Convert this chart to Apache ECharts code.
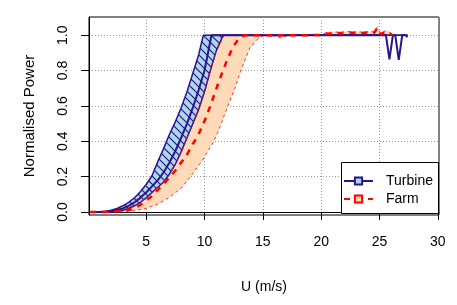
<!DOCTYPE html>
<html><head><meta charset="utf-8">
<script src="https://cdn.jsdelivr.net/npm/echarts@6/dist/echarts.min.js"></script>
<style>html,body{margin:0;padding:0;background:#fff}#c{width:457px;height:305px}</style>
</head><body><div id="c"></div>
<script>
// ---- data ----
const xTicks = [5, 10, 15, 20, 25, 30];
const yTicks = [0, 0.2, 0.4, 0.6, 0.8, 1.0];

const turbUpperU = [0.3, 1, 1.5, 2, 2.5, 3, 3.5, 4, 4.5, 5, 5.5, 6, 6.5, 7, 7.5, 8, 8.5, 9, 9.5, 9.9, 27.4];
const turbUpperP = [0, 0, 0.003, 0.01, 0.02, 0.035, 0.055, 0.08, 0.115, 0.155, 0.205, 0.285, 0.36, 0.44, 0.51, 0.59, 0.68, 0.785, 0.89, 1.0, 1.0];

const turbMeanU = [0.3, 1, 2, 3, 3.5, 4, 4.5, 5, 5.5, 6, 6.5, 7, 7.5, 8, 8.5, 9, 9.5, 10, 10.6, 13, 16, 20, 23, 25.55, 25.85, 26.15, 26.35, 26.65, 26.95, 27.05, 27.25, 27.4];
const turbMeanP = [0, 0, 0.004, 0.02, 0.035, 0.055, 0.08, 0.11, 0.145, 0.18, 0.225, 0.28, 0.345, 0.42, 0.5, 0.59, 0.69, 0.8, 1.0, 1.0, 1.0, 1.0, 1.0, 1.0, 0.864, 1.0, 1.0, 0.86, 1.0, 1.005, 1.0, 0.99];

const turbLowerU = [0.3, 1, 2, 3, 3.5, 4, 4.5, 5, 5.5, 6, 6.5, 7, 7.5, 8, 8.5, 9, 9.5, 10, 10.5, 11, 11.6, 27.4];
const turbLowerP = [0, 0, 0, 0.01, 0.02, 0.035, 0.055, 0.08, 0.11, 0.14, 0.17, 0.215, 0.27, 0.34, 0.42, 0.5, 0.58, 0.68, 0.8, 0.91, 1.0, 1.0];

const farmMeanU = [0.2, 1, 2, 3, 3.6, 4, 4.5, 5, 5.5, 6, 6.5, 7, 7.5, 8, 8.5, 9, 9.5, 10, 10.5, 11, 11.5, 12, 12.5, 13, 13.5, 15, 16, 17, 18, 19, 20, 20.5, 21, 21.5, 22, 22.5, 23, 23.5, 24, 24.5, 24.8, 25.1, 25.5, 25.8, 26.1];
const farmMeanP = [0, 0, 0.002, 0.006, 0.012, 0.022, 0.04, 0.064, 0.09, 0.125, 0.16, 0.195, 0.235, 0.28, 0.325, 0.385, 0.44, 0.515, 0.6, 0.695, 0.785, 0.87, 0.94, 0.985, 1.0, 1.0, 0.998, 1.0, 1.0, 1.0, 1.002, 1.01, 1.005, 1.012, 1.008, 1.015, 1.01, 1.012, 1.015, 1.01, 1.04, 1.005, 1.02, 1.015, 1.0];

const farmUpperU = [0.2, 1, 2, 3, 3.5, 4, 4.5, 5, 5.5, 6, 6.5, 7, 7.5, 8, 8.5, 9, 9.5, 10, 10.5, 11, 11.7, 15, 20, 20.5, 21.5, 22.5, 23.5, 24.5, 24.8, 25.1, 25.5, 25.8, 26.1];
const farmUpperP = [0, 0, 0, 0.01, 0.02, 0.035, 0.055, 0.08, 0.11, 0.14, 0.17, 0.21, 0.27, 0.34, 0.42, 0.5, 0.58, 0.68, 0.8, 0.91, 1.0, 1.0, 1.004, 1.015, 1.018, 1.02, 1.018, 1.02, 1.045, 1.01, 1.025, 1.02, 1.0];

const farmLowerU = [0.2, 2, 3, 4, 5, 6, 7, 8, 8.8, 9.8, 10.8, 11.2, 11.6, 12.0, 12.6, 13.2, 13.9, 14.5, 15, 15.5, 16, 16.5, 17, 17.5, 20, 26.1];
const farmLowerP = [0, 0, 0.002, 0.008, 0.02, 0.045, 0.083, 0.135, 0.2, 0.29, 0.4, 0.46, 0.53, 0.6, 0.7, 0.815, 0.93, 0.975, 0.995, 1.0, 0.995, 0.985, 0.995, 1.0, 1.0, 1.0];

// ---- helpers ----
const pairs = (u, p) => u.map((x, i) => [x, p[i]]);
const NAVY = '#2a1590';
const RED = '#ff0000';
const PEACH = '#FFDAB9';
const LIGHTBLUE = '#ADD8E6';

function hatchCanvas() {
  const s = 8;
  const c = document.createElement('canvas');
  c.width = s; c.height = s;
  const g = c.getContext('2d');
  g.fillStyle = LIGHTBLUE; g.fillRect(0, 0, s, s);
  g.strokeStyle = NAVY; g.lineWidth = 1.2;
  g.beginPath();
  g.moveTo(-1, -1); g.lineTo(s + 1, s + 1);
  g.moveTo(-1, s - 1); g.lineTo(1, s + 1);
  g.moveTo(s - 1, -1); g.lineTo(s + 1, 1);
  g.stroke();
  return c;
}
const hatch = hatchCanvas();

function bandSeries(upper, lower, fill, z) {
  return {
    type: 'custom', silent: true, z: z,
    data: [[upper[0][0], upper[0][1]]],
    renderItem: function (params, api) {
      const pts = upper.map(p => api.coord(p)).concat(lower.slice().reverse().map(p => api.coord(p)));
      return { type: 'polygon', shape: { points: pts }, style: { fill: fill, stroke: null } };
    }
  };
}
function lineSeries(name, data, color, width, type, z) {
  return {
    type: 'line', name: name, data: data, showSymbol: false, symbol: 'none', silent: true,
    lineStyle: { color: color, width: width, type: type }, z: z, animation: false
  };
}

const chart = echarts.init(document.getElementById('c'), null, { renderer: 'canvas' });
const font = 'Liberation Sans, Arial, Helvetica, sans-serif';
chart.setOption({
  animation: false,
  backgroundColor: '#fff',
  grid: { left: 89, right: 18, top: 17, bottom: 90, show: true, borderColor: '#000', borderWidth: 1, backgroundColor: 'transparent' },
  xAxis: {
    type: 'value', min: 0.1, max: 30.1, splitNumber: 6,
    name: 'U (m/s)', nameLocation: 'middle', nameGap: 65,
    nameTextStyle: { fontFamily: font, fontSize: 14, color: '#000' },
    axisLine: { show: true, lineStyle: { color: '#000', width: 1 } },
    axisTick: { show: true, length: 8, inside: false, customValues: xTicks, lineStyle: { color: '#000' } },
    axisLabel: { customValues: xTicks, margin: 20, fontFamily: font, fontSize: 14, color: '#000' },
    splitLine: { show: true, lineStyle: { color: '#999', type: [1, 2], width: 1 } }
  },
  yAxis: {
    type: 'value', min: -0.017, max: 1.103, splitNumber: 5,
    name: 'Normalised Power', nameLocation: 'middle', nameGap: 52,
    nameTextStyle: { fontFamily: font, fontSize: 15, color: '#000' },
    axisLine: { show: true, lineStyle: { color: '#000', width: 1 } },
    axisTick: { show: true, length: 8, inside: false, customValues: yTicks, lineStyle: { color: '#000' } },
    axisLabel: { customValues: yTicks, rotate: 90, margin: 19, fontFamily: font, fontSize: 14, color: '#000',
      formatter: v => v.toFixed(1) },
    splitLine: { show: true, lineStyle: { color: '#999', type: [1, 2], width: 1 } }
  },
  legend: {
    orient: 'vertical', left: 343, top: 174, itemWidth: 29, itemHeight: 9, itemGap: 4, padding: 0,
    data: ['Turbine', 'Farm'], z: 10,
    textStyle: { fontFamily: font, fontSize: 14, color: '#000', padding: [0, 0, 0, 8] }
  },
  graphic: [{
    type: 'rect', z: 5, silent: true,
    shape: { x: 341.5, y: 162.5, width: 97, height: 51 },
    style: { fill: '#fff', stroke: '#000', lineWidth: 1 }
  }],
  series: [
    bandSeries(pairs(farmUpperU, farmUpperP), pairs(farmLowerU, farmLowerP), PEACH, 1),
    bandSeries(pairs(turbUpperU, turbUpperP), pairs(turbLowerU, turbLowerP), { image: hatch, repeat: 'repeat' }, 2),
    lineSeries('', pairs(turbUpperU, turbUpperP), NAVY, 1.5, 'solid', 3),
    lineSeries('', pairs(turbLowerU, turbLowerP), NAVY, 1.5, 'solid', 3),
    lineSeries('', pairs(farmUpperU, farmUpperP), RED, 0.8, [3, 3], 3),
    lineSeries('', pairs(farmLowerU, farmLowerP), RED, 0.8, [3, 3], 3),
    lineSeries('', pairs(turbMeanU, turbMeanP), NAVY, 2, 'solid', 3),
    lineSeries('', pairs(farmMeanU, farmMeanP), RED, 2.5, [6, 6], 4),
    { type: 'line', name: 'Turbine', data: [], symbol: 'rect', symbolSize: 7,
      lineStyle: { color: NAVY, width: 2, type: 'solid' },
      itemStyle: { color: LIGHTBLUE, borderColor: NAVY, borderWidth: 1.5 } },
    { type: 'line', name: 'Farm', data: [], symbol: 'rect', symbolSize: 7,
      lineStyle: { color: RED, width: 2, type: [6, 6] },
      itemStyle: { color: PEACH, borderColor: RED, borderWidth: 1.5 } }
  ]
});
</script></body></html>
